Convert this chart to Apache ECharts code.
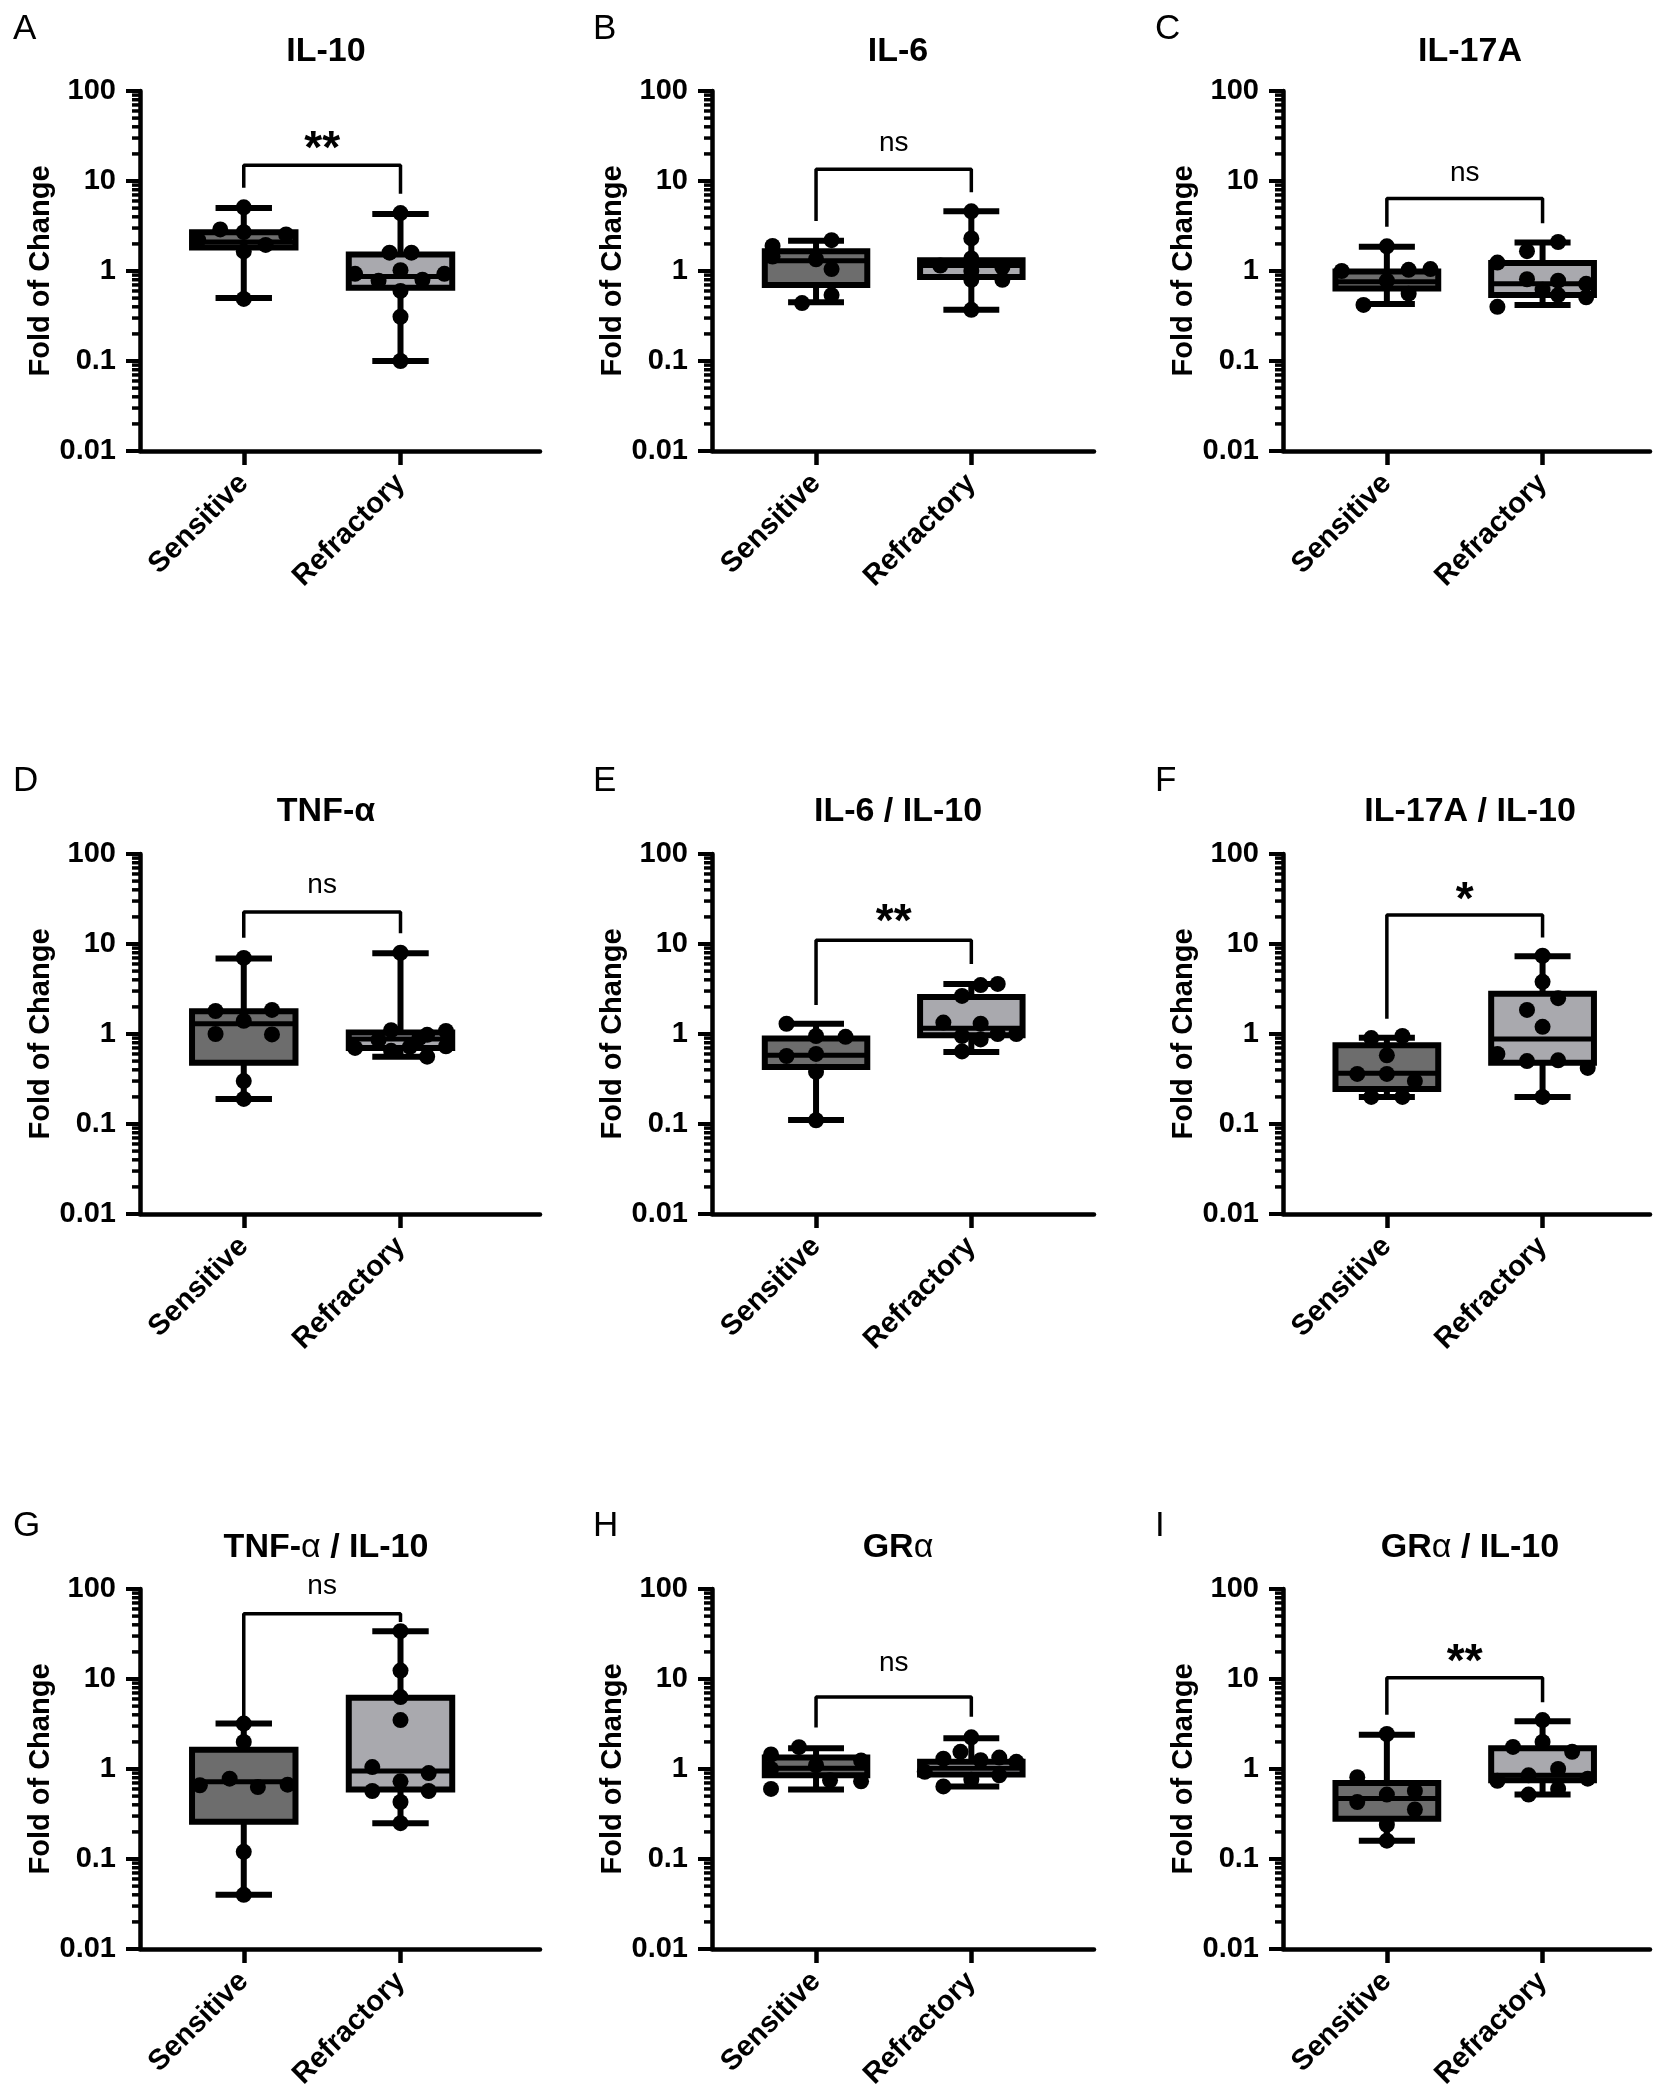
<!DOCTYPE html>
<html>
<head>
<meta charset="utf-8">
<script src="https://cdn.jsdelivr.net/npm/echarts@6/dist/echarts.min.js"></script>
<style>
  html, body { margin: 0; padding: 0; background: #fff; }
  #chart { width: 1654px; height: 2093px; }
</style>
</head>
<body>
<div id="chart"></div>
<script>
// ---- data ----
const panelLetters = ['A', 'B', 'C', 'D', 'E', 'F', 'G', 'H', 'I']
const panelTitles = ['IL-10', 'IL-6', 'IL-17A', 'TNF-α', 'IL-6 / IL-10', 'IL-17A / IL-10',
  'TNF-{a|α} / IL-10', 'GR{a|α}', 'GR{a|α} / IL-10']
const groups = ['Sensitive', 'Refractory']
const yTicks = [0.01, 0.1, 1, 10, 100]
const yTickLabels = ['0.01', '0.1', '1', '10', '100']

// [min, Q1, median, Q3, max]
const sensitiveBox = [
  [0.5, 1.82, 2.1, 2.7, 5.0],
  [0.45, 0.70, 1.3, 1.66, 2.17],
  [0.43, 0.64, 0.76, 0.99, 1.86],
  [0.19, 0.48, 1.3, 1.79, 6.9],
  [0.111, 0.43, 0.58, 0.89, 1.3],
  [0.2, 0.245, 0.366, 0.75, 0.91],
  [0.04, 0.26, 0.72, 1.64, 3.2],
  [0.59, 0.85, 1.02, 1.34, 1.7],
  [0.16, 0.28, 0.47, 0.7, 2.4]
]
const refractoryBox = [
  [0.1, 0.65, 0.87, 1.53, 4.3],
  [0.37, 0.86, 1.15, 1.32, 4.6],
  [0.42, 0.54, 0.72, 1.23, 2.07],
  [0.56, 0.70, 0.88, 1.04, 7.9],
  [0.63, 0.97, 1.16, 2.57, 3.6],
  [0.2, 0.48, 0.88, 2.8, 7.3],
  [0.25, 0.59, 0.95, 6.2, 34],
  [0.64, 0.87, 1.02, 1.2, 2.2],
  [0.52, 0.75, 0.85, 1.7, 3.4]
]
// individual samples: [horizontal spread in group units, value]
const sensitivePoints = [
  [[0, 5.1], [-0.15, 2.9], [0, 2.7], [0.27, 2.55], [-0.29, 2.2], [0.14, 1.95], [0, 1.65], [0, 0.49]],
  [[0.1, 2.2], [-0.28, 1.9], [-0.28, 1.45], [0, 1.35], [0.1, 1.05], [0.1, 0.54], [-0.09, 0.44]],
  [[0, 1.88], [-0.29, 1.0], [0.14, 1.03], [0.28, 1.05], [0, 0.78], [0.14, 0.56], [-0.15, 0.42]],
  [[0, 7.0], [-0.18, 1.8], [0.18, 1.85], [0, 1.4], [-0.18, 1.0], [0.18, 0.99], [0, 0.3], [0, 0.19]],
  [[-0.19, 1.3], [0, 0.95], [0.19, 0.93], [-0.19, 0.57], [0, 0.6], [0, 0.38], [0, 0.11]],
  [[-0.1, 0.9], [0.1, 0.95], [0, 0.58], [-0.19, 0.36], [0, 0.36], [0.18, 0.3], [-0.1, 0.2], [0.1, 0.2]],
  [[0, 3.2], [0, 2.0], [-0.09, 0.78], [-0.28, 0.66], [0.09, 0.63], [0.28, 0.67], [0, 0.12], [0, 0.04]],
  [[-0.11, 1.75], [-0.29, 1.45], [-0.29, 1.0], [0, 1.1], [0.29, 1.24], [0.29, 0.73], [0.09, 0.75], [-0.29, 0.6]],
  [[0, 2.45], [-0.19, 0.81], [0.18, 0.57], [0, 0.52], [-0.19, 0.43], [0.18, 0.355], [0, 0.24], [0, 0.16]]
]
const refractoryPoints = [
  [[0, 4.4], [-0.07, 1.6], [0.07, 1.6], [0, 1.02], [-0.29, 0.93], [0.28, 0.93], [-0.14, 0.78], [0.14, 0.8], [0, 0.6], [0, 0.31], [0, 0.1]],
  [[0, 4.6], [0, 2.3], [0, 1.38], [-0.2, 1.15], [0.2, 1.1], [0, 1.0], [0.2, 0.8], [0, 0.8], [0, 0.37]],
  [[0.1, 2.1], [-0.1, 1.66], [-0.29, 1.24], [-0.1, 0.81], [0.1, 0.78], [0.28, 0.72], [0.1, 0.54], [0.28, 0.51], [-0.29, 0.4], [0, 0.62]],
  [[0, 8.0], [-0.06, 1.1], [0.29, 1.08], [0.17, 0.98], [-0.14, 0.86], [0.12, 0.9], [-0.29, 0.7], [0.29, 0.73], [0.06, 0.72], [-0.06, 0.65], [0.17, 0.56]],
  [[0.17, 3.6], [0.06, 3.5], [-0.06, 2.65], [-0.18, 1.34], [0.06, 1.3], [-0.06, 0.95], [0.06, 0.87], [0.17, 1.0], [0.29, 1.0], [-0.06, 0.64]],
  [[0, 7.4], [0, 3.8], [0.1, 2.5], [-0.1, 1.85], [0, 1.2], [-0.29, 0.6], [-0.1, 0.5], [0.1, 0.51], [0.29, 0.42], [0, 0.2]],
  [[0, 34], [0, 12.4], [0, 6.3], [0, 3.5], [-0.18, 1.05], [0.18, 0.9], [0, 0.73], [-0.18, 0.57], [0.18, 0.57], [0, 0.43], [0, 0.25]],
  [[0, 2.25], [-0.07, 1.55], [-0.18, 1.3], [0.18, 1.34], [0.06, 1.25], [0.29, 1.2], [-0.3, 0.93], [0, 0.76], [0.18, 0.85], [-0.18, 0.64]],
  [[0, 3.5], [0, 2.0], [-0.19, 1.76], [0.19, 1.55], [0.1, 1.0], [-0.09, 0.85], [-0.29, 0.74], [0.29, 0.78], [0.1, 0.6], [-0.09, 0.52]]
]
// significance: label, [left leg end, bracket top, right leg end], label height
const sigLabels = ['**', 'ns', 'ns', 'ns', '**', '*', 'ns', 'ns', '**']
const sigBrackets = [
  [8.4, 15, 7.2], [3.6, 13.5, 7.5], [3.1, 6.4, 3.4],
  [11.7, 22.7, 13.2], [2.1, 11, 6.0], [1.48, 21, 11.8],
  [3.3, 53, 43], [2.9, 6.3, 3.8], [4.0, 10.3, 5.5]
]
const sigLabelY = [22, 26, 12.2, 45, 17, 30, 108, 15, 15]

// ---- layout ----
const FONT = 'Liberation Sans, Arial, sans-serif'
const colLeft = [140, 712, 1283]
const colWidth = [400, 382, 367]
const xMin = [0.338, 0.33, 0.333]
const xMax = [2.89, 2.79, 2.69]
const rowTop = [91, 854, 1589]
const plotHeight = 360
const titleX = [321, 893, 1465]
const titleY = [47, 807, 1543]
const letterX = [8, 588, 1150]
const letterY = [24, 776, 1521]
const boxColors = ['#6d6d6d', '#a9a9ae']

const minorTicks = []
yTicks.slice(0, -1).forEach(d => { for (let k = 2; k <= 9; k++) minorTicks.push(d * k) })

const grid = [], xAxis = [], yAxis = [], series = [], title = []
const axisLine = { show: true, onZero: false, lineStyle: { color: '#000', width: 4.5 } }

for (let i = 0; i < 9; i++) {
  const col = i % 3
  const row = Math.floor(i / 3)

  grid.push({ left: colLeft[col], top: rowTop[row], width: colWidth[col], height: plotHeight, containLabel: false, outerBoundsMode: 'none' })

  xAxis.push({
    gridIndex: i, type: 'value', min: xMin[col], max: xMax[col],
    axisLine: axisLine,
    axisTick: { show: true, customValues: [1, 2], length: 14, lineStyle: { color: '#000', width: 4.5 } },
    axisLabel: {
      customValues: [1, 2], formatter: v => groups[Math.round(v) - 1] || '',
      rotate: 45, margin: 28, fontSize: 29, fontWeight: 'bold', color: '#000', fontFamily: FONT
    },
    splitLine: { show: false }
  })

  yAxis.push({
    gridIndex: i, type: 'log', logBase: 10, min: 0.01, max: 100,
    axisLine: axisLine,
    axisTick: { show: true, length: 14, lineStyle: { color: '#000', width: 4 } },
    axisLabel: {
      margin: 24, fontSize: 29, fontWeight: 'bold', color: '#000', fontFamily: FONT,
      formatter: v => {
        const k = yTicks.findIndex(t => Math.abs(t - v) / t < 1e-6)
        return k >= 0 ? yTickLabels[k] : ''
      }
    },
    splitLine: { show: false },
    name: 'Fold of Change', nameLocation: 'middle', nameGap: 82,
    nameTextStyle: { fontSize: 29, fontWeight: 'bold', color: '#000', fontFamily: FONT }
  })

  // minor log ticks
  series.push({
    type: 'custom', xAxisIndex: i, yAxisIndex: i, silent: true, clip: false,
    data: minorTicks.map(v => [xMin[col], v]),
    renderItem: (params, api) => {
      const p = api.coord([api.value(0), api.value(1)])
      return { type: 'line', shape: { x1: p[0] - 8, y1: p[1], x2: p[0], y2: p[1] }, style: { stroke: '#000', lineWidth: 3.5 } }
    }
  })

  // box and whiskers
  series.push({
    type: 'custom', xAxisIndex: i, yAxisIndex: i, silent: true, z: 2,
    data: [[1].concat(sensitiveBox[i]), [2].concat(refractoryBox[i])],
    encode: { x: 0, y: [1, 2, 3, 4, 5] },
    renderItem: (params, api) => {
      const x = api.value(0)
      const c = k => api.coord([x, api.value(k)])
      const pMin = c(1), pQ1 = c(2), pMed = c(3), pQ3 = c(4), pMax = c(5)
      const bw = api.size([0.66, 0])[0]
      const cw = api.size([0.36, 0])[0]
      const st = { stroke: '#000', lineWidth: 6 }
      return {
        type: 'group',
        children: [
          { type: 'line', shape: { x1: pMin[0], y1: pMin[1], x2: pMax[0], y2: pMax[1] }, style: st },
          { type: 'line', shape: { x1: pMin[0] - cw / 2, y1: pMin[1], x2: pMin[0] + cw / 2, y2: pMin[1] }, style: st },
          { type: 'line', shape: { x1: pMax[0] - cw / 2, y1: pMax[1], x2: pMax[0] + cw / 2, y2: pMax[1] }, style: st },
          { type: 'rect', shape: { x: pQ3[0] - bw / 2, y: pQ3[1], width: bw, height: pQ1[1] - pQ3[1] },
            style: { fill: boxColors[params.dataIndex], stroke: '#000', lineWidth: 6 } },
          { type: 'line', shape: { x1: pMed[0] - bw / 2, y1: pMed[1], x2: pMed[0] + bw / 2, y2: pMed[1] }, style: { stroke: '#000', lineWidth: 5 } }
        ]
      }
    }
  })

  // significance bracket
  const b = sigBrackets[i]
  series.push({
    type: 'line', xAxisIndex: i, yAxisIndex: i, silent: true, z: 3,
    symbol: 'none', clip: false,
    data: [[1, b[0]], [1, b[1]], [2, b[1]], [2, b[2]]],
    lineStyle: { color: '#000', width: 3.5 }
  })

  // samples
  series.push({
    type: 'scatter', xAxisIndex: i, yAxisIndex: i, silent: true, z: 4,
    symbolSize: 16, itemStyle: { color: '#000', opacity: 1 },
    data: sensitivePoints[i].map(p => [1 + p[0], p[1]]).concat(refractoryPoints[i].map(p => [2 + p[0], p[1]]))
  })

  // significance label
  const star = sigLabels[i] !== 'ns'
  series.push({
    type: 'scatter', xAxisIndex: i, yAxisIndex: i, silent: true, z: 5, clip: false,
    symbolSize: 1, itemStyle: { color: '#fff', opacity: 1 },
    data: [[1.5, sigLabelY[i]]],
    label: {
      show: true, position: 'inside', formatter: sigLabels[i], color: '#000', fontFamily: FONT,
      fontSize: star ? 46 : 28, fontWeight: star ? 'bold' : 'normal'
    }
  })

  title.push({
    text: panelTitles[i], left: titleX[col], top: titleY[row], textAlign: 'center', textVerticalAlign: 'middle',
    textStyle: {
      fontSize: 34, fontWeight: 'bold', color: '#000', fontFamily: FONT,
      rich: { a: { fontSize: 34, fontWeight: 'normal', color: '#000', fontFamily: FONT } }
    }
  })
  title.push({
    text: panelLetters[i], left: letterX[col], top: letterY[row], textVerticalAlign: 'middle',
    textStyle: { fontSize: 35, fontWeight: 'normal', color: '#000', fontFamily: FONT }
  })
}

const chart = echarts.init(document.getElementById('chart'), null, { renderer: 'canvas' })
chart.setOption({
  animation: false,
  backgroundColor: '#fff',
  title: title,
  grid: grid,
  xAxis: xAxis,
  yAxis: yAxis,
  series: series
})
</script>
</body>
</html>
